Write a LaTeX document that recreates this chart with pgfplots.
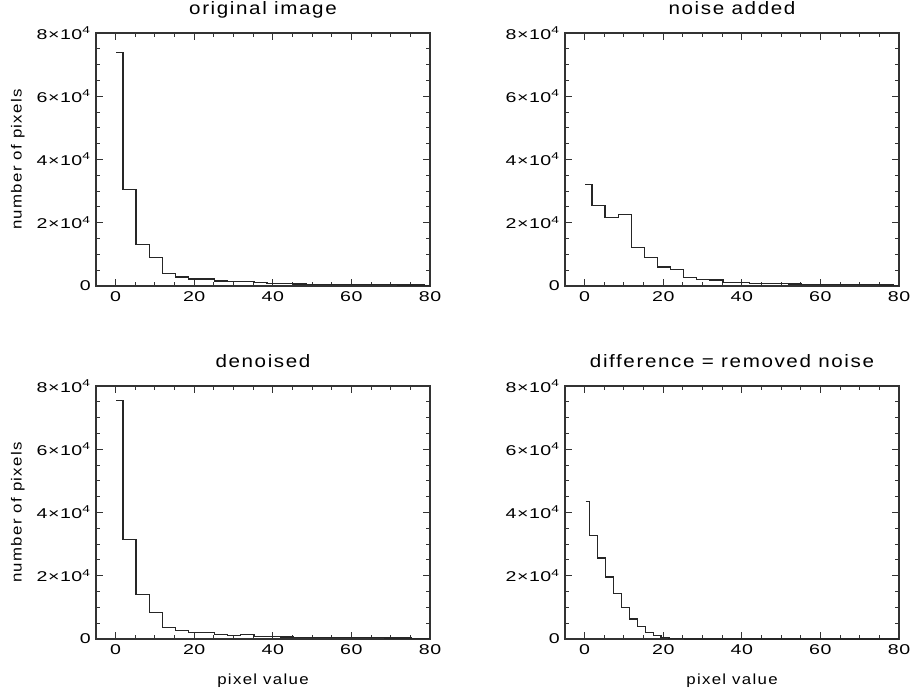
\documentclass[border=0pt]{standalone}
\usepackage{fontspec}
\setmainfont{Liberation Sans}[FakeStretch=1.15, LetterSpace=9]
\newfontfamily\tickfont{Liberation Sans}[FakeStretch=1.38, LetterSpace=4]
\usepackage{pgfplots}
\usepackage{pgfplotstable}
\pgfplotsset{compat=1.18}

% one reference pixel
\newlength\px
\setlength\px{0.67pt}

% bins of width 3.33, centres of each bin
\pgfplotstableread{
x      orig   noisy  denoised
0.20   73900  32200  75500
3.53   30600  25500  31500
6.87   13200  21700  14000
10.20  9000   22700  8300
13.53  3900   12300  3600
16.87  2850   8900   2650
20.20  2200   6000   2000
23.53  2200   5300   2100
26.87  1600   2700   1400
30.20  1300   2000   1150
33.53  1300   1900   1300
36.87  1000   1200   700
40.20  800    1000   750
43.53  750    900    650
46.87  650    800    600
50.20  550    700    550
53.53  600    650    500
56.87  500    600    450
60.20  450    500    420
63.53  420    450    380
66.87  380    400    350
70.20  400    380    320
73.53  330    350    300
76.87  300    300    280
80.20  280    280    260
83.53  250    250    240
}\hist

% removed noise, bins of width 2.02
\pgfplotstableread{
x      diff
0.26   43500
2.28   32800
4.30   25600
6.32   19600
8.34   14300
10.36  10000
12.38  6300
14.40  3900
16.42  2000
18.44  1150
20.46  550
22.48  200
24.50  80
26.52  30
28.54  0
82.00  0
}\diffhist

\pgfplotsset{
  histax/.style={
    scale only axis, width=334\px, height=253\px,
    xmin=-5, xmax=80, ymin=0, ymax=80000,
    xtick={0,20,40,60,80}, xticklabels={0,20,40,60,80},
    ytick={0,20000,40000,60000,80000},
    yticklabels={0,2×10\textsuperscript{4},4×10\textsuperscript{4},6×10\textsuperscript{4},8×10\textsuperscript{4}},
    scaled y ticks=false,
    minor x tick num=3, minor y tick num=3,
    tick align=inside,
    major tick length=4.4pt, minor tick length=2.4pt,
    axis line style={line width=0.9pt, black!80},
    tick style={line width=0.6pt, black!80},
    tick label style={font=\tickfont\fontsize{9.5}{11}\selectfont},
    title style={font=\fontsize{12}{14}\selectfont, at={(0.5,1)}, anchor=base, yshift=10\px},
    label style={font=\fontsize{9.8}{12}\selectfont},
    ylabel style={at={(axis description cs:-0.234,0.5)}, anchor=center, rotate=0},
    xlabel style={at={(axis description cs:0.5,-0.163)}, anchor=center},
  },
  histline/.style={const plot mark mid, no marks, line width=0.8pt, black!85},
}

\begin{document}
\begin{tikzpicture}
\path[use as bounding box] (0,0) rectangle (914\px,696\px);

\begin{axis}[histax, at={(96\px,410\px)}, anchor=south west,
    title={original image}, ylabel={number of pixels}]
\addplot[histline] table[x=x, y=orig] {\hist};
\end{axis}

\begin{axis}[histax, at={(565\px,410\px)}, anchor=south west,
    title={noise added}]
\addplot[histline] table[x=x, y=noisy] {\hist};
\end{axis}

\begin{axis}[histax, at={(96\px,57\px)}, anchor=south west,
    title={denoised}, ylabel={number of pixels}, xlabel={pixel value}]
\addplot[histline] table[x=x, y=denoised] {\hist};
\end{axis}

\begin{axis}[histax, at={(565\px,57\px)}, anchor=south west,
    title={difference = removed noise}, xlabel={pixel value}]
\addplot[histline] table[x=x, y=diff] {\diffhist};
\end{axis}
\end{tikzpicture}
\end{document}
